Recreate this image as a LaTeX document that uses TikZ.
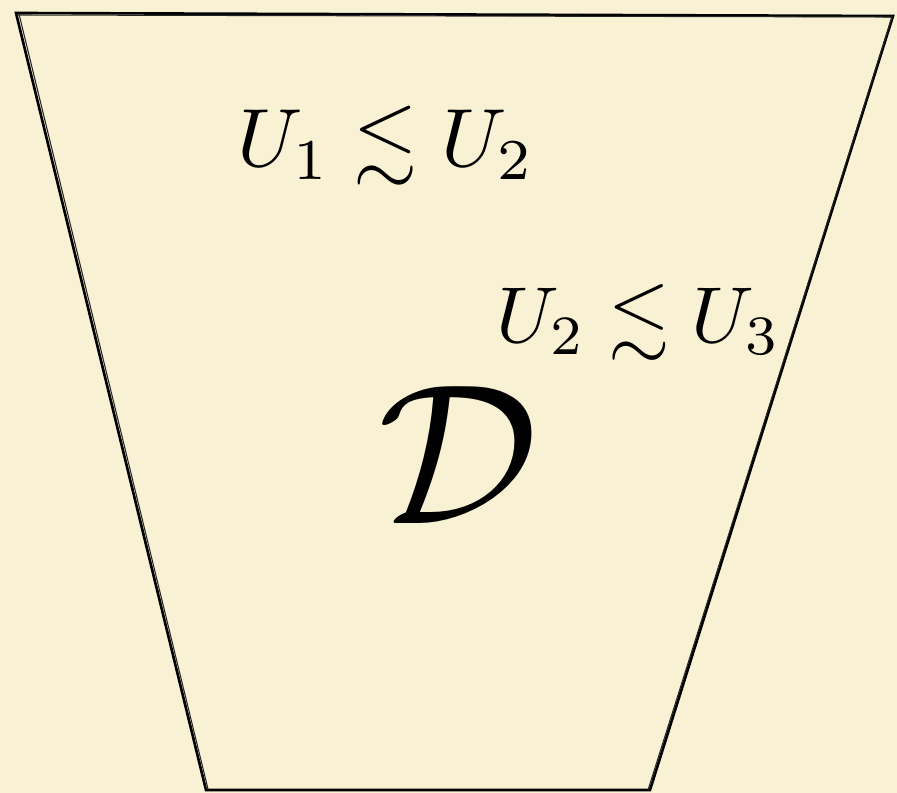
\documentclass[tikz,border=0pt]{standalone}
\usepackage{amsmath, amssymb}
\usepackage{tikz}
\definecolor{paper}{RGB}{249,241,211}
\tikzset{
  edge/.style={line width=1.5pt, black},
  sketch/.style={line width=0.6pt, black!85},
  lbl/.style={scale=4.7, inner sep=0pt},
}

\begin{document}
\begin{tikzpicture}[x=0.02cm, y=-0.02cm]
  % paper
  \fill[paper] (0,0) rectangle (897,793);
  \useasboundingbox (0,0) rectangle (897,793);
  % corners
  \coordinate (tl) at (16,13);
  \coordinate (tr) at (893,16);
  \coordinate (br) at (650,790);
  \coordinate (bl) at (206,790);
  % outline, drawn twice for a sketchy look
  \draw[edge] (tl) -- (tr) -- (br) -- (bl) -- cycle;
  \draw[sketch] ([shift={(1,2)}]tl) -- ([shift={(-1,1)}]tr) -- ([shift={(-2,0)}]br);
  \draw[sketch] ([shift={(2,-1)}]bl) -- ([shift={(3,1)}]tl);
  % labels
  \node[lbl] (r12) at (386,146) {$U_1 \lesssim U_2$};
  \node[lbl, scale=0.96] (r23) at (639,323) {$U_2 \lesssim U_3$};
  \node[scale=11.4, inner sep=0pt] (dom) at (459,455) {$\mathcal{D}$};
\end{tikzpicture}
\end{document}
